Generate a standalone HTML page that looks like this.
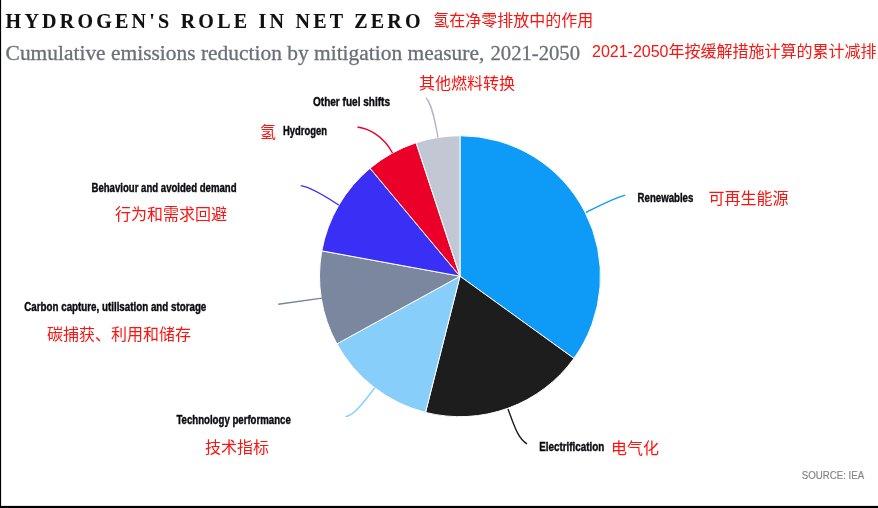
<!DOCTYPE html>
<html lang="en">
<head>
<meta charset="utf-8">
<title>Hydrogen's role in net zero</title>
<style>
html,body{margin:0;padding:0;background:#fff;}
body{width:878px;height:508px;overflow:hidden;position:relative;}
svg{display:block;position:absolute;left:0;top:0;}
.ttl{font-family:"Liberation Serif",serif;font-weight:bold;font-size:20px;fill:#111;stroke:#111;stroke-width:0.12px;}
.sub{font-family:"Liberation Serif",serif;font-size:20.5px;fill:#6b7079;stroke:#6b7079;stroke-width:0.3px;}
.lab{font-family:"Liberation Sans",sans-serif;font-weight:bold;font-size:12.2px;fill:#0c0c10;stroke:#0c0c10;stroke-width:0.4px;}
.cn{font-family:"Liberation Sans","Noto Sans CJK SC",sans-serif;font-size:16px;fill:#f81410;}
.src{font-family:"Liberation Sans",sans-serif;font-size:11.8px;fill:#858585;stroke:#858585;stroke-width:0.2px;}
.ld{fill:none;stroke-width:1.4;}
</style>
</head>
<body>
<svg width="878" height="508" viewBox="0 0 878 508">
<rect x="0" y="0" width="878" height="508" fill="#fff"/>
<rect x="0" y="0" width="1.1" height="508" fill="#000"/>
<rect x="0" y="505.9" width="878" height="2.1" fill="#000"/>

<text class="ttl" x="5.6" y="27.5" textLength="415" lengthAdjust="spacing">HYDROGEN'S ROLE IN NET ZERO</text>
<text class="cn" x="433.3" y="26.4">氢在净零排放中的作用</text>
<text class="sub" x="5.6" y="59.8" textLength="478.7" lengthAdjust="spacingAndGlyphs">Cumulative emissions reduction by mitigation measure,</text>
<text class="sub" x="490.5" y="59.8" textLength="89.5" lengthAdjust="spacingAndGlyphs">2021-2050</text>
<text class="cn" x="592" y="56.8" textLength="76.5" lengthAdjust="spacing">2021-2050</text><text class="cn" x="668.6" y="56.8">年按缓解措施计算的累计减排</text>

<!-- pie -->
<g id="pie" stroke="#fff" stroke-width="1" stroke-linejoin="round">
<path fill="#0d9bf7" d="M460.0 276.2 L460.00 135.70 A140.5 140.5 0 0 1 573.95 358.39 Z"/>
<path fill="#1d1d1d" d="M460.0 276.2 L573.95 358.39 A140.5 140.5 0 0 1 425.53 412.41 Z"/>
<path fill="#87cefa" d="M460.0 276.2 L425.53 412.41 A140.5 140.5 0 0 1 336.88 343.89 Z"/>
<path fill="#7a879e" d="M460.0 276.2 L336.88 343.89 A140.5 140.5 0 0 1 321.81 250.84 Z"/>
<path fill="#3a30f5" d="M460.0 276.2 L321.81 250.84 A140.5 140.5 0 0 1 370.06 168.26 Z"/>
<path fill="#ea0029" d="M460.0 276.2 L370.06 168.26 A140.5 140.5 0 0 1 416.12 142.73 Z"/>
<path fill="#c2c8d3" d="M460.0 276.2 L416.12 142.73 A140.5 140.5 0 0 1 460.00 135.70 Z"/>
</g>

<!-- leader lines -->
<path class="ld" stroke="#b0b8c6" d="M426 98 C431 103 434 115 438 137.5"/>
<path class="ld" stroke="#ea0029" d="M357.5 127 C368 128.5 383 135 392.5 153"/>
<path class="ld" stroke="#3a30f5" d="M300.7 185.6 C310 187 322 194 338.7 205"/>
<path class="ld" stroke="#76849c" d="M278.2 304.3 L322 298.1"/>
<path class="ld" stroke="#87cefa" d="M345.4 416.6 C352 416 358 410 374.6 388"/>
<path class="ld" stroke="#1d1d1d" d="M508 409 C514 425 518 439 527 443.8"/>
<path class="ld" stroke="#0d9bf7" stroke-width="1.5" d="M586 212.5 C600 205.5 612 199 625.2 195.2"/>

<!-- labels -->
<text class="lab" x="313" y="106" textLength="77" lengthAdjust="spacingAndGlyphs">Other fuel shifts</text>
<text class="cn" x="418.9" y="88.9">其他燃料转换</text>
<text class="cn" x="260" y="138.1">氢</text>
<text class="lab" x="283" y="135" textLength="44" lengthAdjust="spacingAndGlyphs">Hydrogen</text>
<text class="lab" x="91.5" y="191.5" textLength="145" lengthAdjust="spacingAndGlyphs">Behaviour and avoided demand</text>
<text class="cn" x="115" y="220.4">行为和需求回避</text>
<text class="lab" x="24.3" y="310.7" textLength="182" lengthAdjust="spacingAndGlyphs">Carbon capture, utilisation and storage</text>
<text class="cn" x="47" y="340.4">碳捕获、利用和储存</text>
<text class="lab" x="176.4" y="424" textLength="114.4" lengthAdjust="spacingAndGlyphs">Technology performance</text>
<text class="cn" x="205" y="452.9">技术指标</text>
<text class="lab" x="637.6" y="202" textLength="55.7" lengthAdjust="spacingAndGlyphs">Renewables</text>
<text class="cn" x="708.5" y="204.4">可再生能源</text>
<text class="lab" x="539.2" y="451" textLength="65" lengthAdjust="spacingAndGlyphs">Electrification</text>
<text class="cn" x="611" y="453.9">电气化</text>
<text class="src" x="801.8" y="478.5" textLength="62.4" lengthAdjust="spacingAndGlyphs">SOURCE: IEA</text>
</svg>
</body>
</html>
